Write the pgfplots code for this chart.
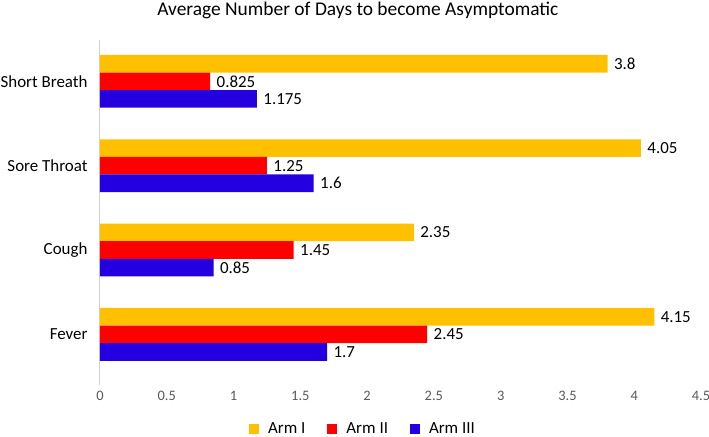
\documentclass[border=0pt]{standalone}
\usepackage{fontspec}
\setmainfont{Carlito}
\usepackage{pgfplots}
\pgfplotsset{compat=1.18}
\definecolor{armone}{HTML}{FFC000}
\definecolor{armtwo}{HTML}{FF0000}
\definecolor{armthree}{HTML}{2400E0}
\definecolor{ticktext}{HTML}{595959}
\begin{document}
\begin{tikzpicture}
\begin{axis}[
    width=601bp, height=345bp, scale only axis,
    xbar, bar width=17.6bp,
    xmin=0, xmax=4.5, ymin=-0.6, ymax=3.49,
    xtick={0,0.5,1,1.5,2,2.5,3,3.5,4,4.5},
    ytick={0,1,2,3},
    yticklabels={Fever,Cough,Sore Throat,Short Breath},
    axis x line*=bottom, axis y line*=left,
    x axis line style={draw=none},
    y axis line style={-, draw=black!18, line width=1bp},
    major tick length=0pt,
    /pgf/number format/assume math mode=true,
    xticklabel style={font=\fontsize{14.5}{14.5}\selectfont, text=ticktext, yshift=-3bp},
    yticklabel style={font=\fontsize{17}{17}\selectfont, text=black, xshift=-9bp},
    title={Average Number of Days to become Asymptomatic},
    title style={at={(0.429,1)}, anchor=center, yshift=24bp, font=\fontsize{19.5}{19.5}\selectfont},
    nodes near coords={\pgfmathprintnumber[fixed,precision=3]{\pgfplotspointmeta}},
    every node near coord/.append style={font=\fontsize{17}{17}\selectfont, text=black, xshift=3bp},
    legend columns=-1,
    legend style={at={(0.4376,-0.127)}, anchor=center, draw=none,
        font=\fontsize{17}{17}\selectfont,
        /tikz/every odd column/.append style={column sep=7bp},
        /tikz/every even column/.append style={column sep=20bp}},
    legend image code/.code={\fill[#1] (0bp,-5bp) rectangle (10bp,5bp);},
]
\addplot[fill=armone, draw=none, bar shift=17.6bp]
    coordinates {(4.15,0) (2.35,1) (4.05,2) (3.8,3)};
\addplot[fill=armtwo, draw=none, bar shift=0bp]
    coordinates {(2.45,0) (1.45,1) (1.25,2) (0.825,3)};
\addplot[fill=armthree, draw=none, bar shift=-17.6bp]
    coordinates {(1.7,0) (0.85,1) (1.6,2) (1.175,3)};
\legend{Arm I, Arm II, Arm III}
\end{axis}
\pgfresetboundingbox
\path[use as bounding box] ([shift={(-100bp,-52bp)}]current axis.south west)
    rectangle ([shift={(609bp,385bp)}]current axis.south west);
\end{tikzpicture}
\end{document}
